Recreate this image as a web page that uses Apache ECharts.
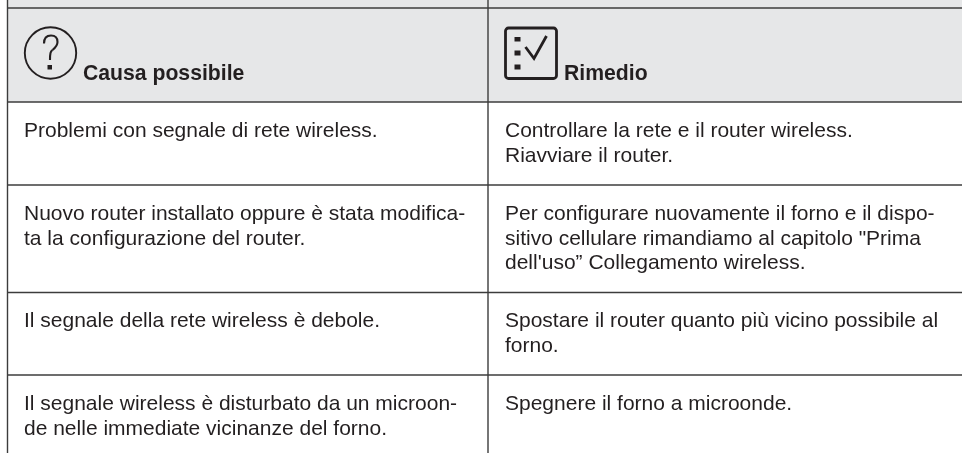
<!DOCTYPE html>
<html><head><meta charset="utf-8">
<style>html,body{margin:0;padding:0;background:#fff}#c{width:962px;height:453px}</style>
<script src="https://cdn.jsdelivr.net/npm/echarts@6/dist/echarts.min.js"></script>
</head><body><div id="c"></div>
<script>
const headers = ["Causa possibile", "Rimedio"];
const causes = [
  ["Problemi con segnale di rete wireless."],
  ["Nuovo router installato oppure è stata modifica-", "ta la configurazione del router."],
  ["Il segnale della rete wireless è debole."],
  ["Il segnale wireless è disturbato da un microon-", "de nelle immediate vicinanze del forno."]
];
const remedies = [
  ["Controllare la rete e il router wireless.", "Riavviare il router."],
  ["Per configurare nuovamente il forno e il dispo-", "sitivo cellulare rimandiamo al capitolo \"Prima", "dell'uso” Collegamento wireless."],
  ["Spostare il router quanto più vicino possibile al", "forno."],
  ["Spegnere il forno a microonde."]
];
const ruleYs = [8, 102, 185, 292.5, 375];
const rowBaselines = [137.5, 220.5, 328, 410.5];
const FONT = '"Liberation Sans", Arial, sans-serif';
const ink = '#231f20', line = '#3c3c3c';
const g = [];
g.push({type:'rect',shape:{x:7,y:0,width:955,height:102},style:{fill:'#e6e7e8'},z:0});
ruleYs.forEach(y=>g.push({type:'line',shape:{x1:7,y1:y,x2:962,y2:y},style:{stroke:line,lineWidth:1.4},z:2}));
[7.5,488].forEach(x=>g.push({type:'line',shape:{x1:x,y1:0,x2:x,y2:453},style:{stroke:line,lineWidth:1.4},z:2}));
const t=(x,base,s,w)=>g.push({type:'text',x,y:base-17,style:{text:s,fill:ink,font:(w?w+' 21.2px ':'21px ')+FONT},z:3});
t(83,80.5,headers[0],'bold'); t(564,80.5,headers[1],'bold');
[[24,causes],[505,remedies]].forEach(([x,col])=>col.forEach((ls,i)=>ls.forEach((s,j)=>t(x,rowBaselines[i]+j*24.8,s))));
// icons
g.push({type:'circle',shape:{cx:50.5,cy:53,r:25.7},style:{fill:'none',stroke:ink,lineWidth:1.9},z:3});
const curve=(x1,y1,cpx1,cpy1,cpx2,cpy2,x2,y2)=>g.push({type:'bezierCurve',shape:{x1,y1,cpx1,cpy1,cpx2,cpy2,x2,y2},style:{fill:'none',stroke:ink,lineWidth:2.1},z:3});
curve(44,43.5,44,38,47,35.5,51,35.5);
curve(51,35.5,55,35.5,57.5,38,57.5,42);
curve(57.5,42,57.5,46,55,48,52.5,50);
curve(52.5,50,50.5,51.6,50,53,50,60);
g.push({type:'rect',shape:{x:47.5,y:65,width:4.5,height:4.5},style:{fill:ink},z:3});
g.push({type:'rect',shape:{x:505.5,y:28,width:51,height:50.5,r:3},style:{fill:'none',stroke:ink,lineWidth:2.8},z:3});
[[37,4.5],[50.5,5],[64.5,5]].forEach(([y,h])=>g.push({type:'rect',shape:{x:514.5,y:y,width:6,height:h},style:{fill:ink},z:3}));
g.push({type:'polyline',shape:{points:[[525.5,47],[534,58.5],[546.5,36]]},style:{fill:'none',stroke:ink,lineWidth:2.8},z:3});
const chart=echarts.init(document.getElementById('c'),null,{renderer:'canvas'});
chart.setOption({animation:false,backgroundColor:'#fff',graphic:{elements:g}});
</script></body></html>
